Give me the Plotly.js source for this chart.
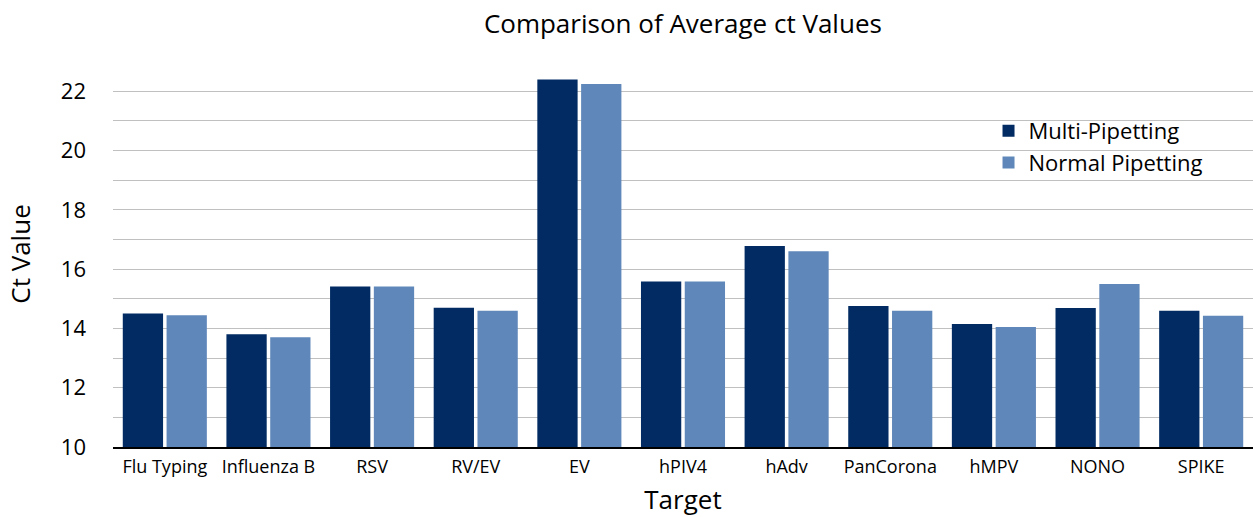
<!DOCTYPE html>
<html>
<head>
<meta charset="utf-8">
<script src="https://cdn.plot.ly/plotly-3.0.1.min.js"></script>
<style>html,body{margin:0;padding:0;background:#fff;}#chart{width:1253px;height:517px;}</style>
</head>
<body>
<div id="chart"></div>
<script>
const categories = ["Flu Typing","Influenza B","RSV","RV/EV","EV","hPIV4","hAdv","PanCorona","hMPV","NONO","SPIKE"];
const multiPipetting = [14.50, 13.80, 15.41, 14.70, 22.40, 15.58, 16.78, 14.76, 14.15, 14.69, 14.60];
const normalPipetting = [14.44, 13.70, 15.41, 14.60, 22.24, 15.58, 16.60, 14.60, 14.05, 15.50, 14.43];
const yTicks = [10, 12, 14, 16, 18, 20, 22];

const font = "'Open Sans', sans-serif";
const traces = [
  {type: "bar", name: "Multi-Pipetting", x: categories, y: multiPipetting, marker: {color: "#012b62"}},
  {type: "bar", name: "Normal Pipetting", x: categories, y: normalPipetting, marker: {color: "#5f87b9"}}
];
const layout = {
  width: 1253, height: 517,
  margin: {l: 113, r: 0, t: 61, b: 70},
  paper_bgcolor: "#fff", plot_bgcolor: "#fff",
  font: {family: font, color: "#000"},
  title: {text: "Comparison of Average ct Values", font: {size: 26, family: font, color: "#000"}, x: 0.545, xanchor: "center", y: 0.954, yanchor: "middle"},
  barmode: "group", bargap: 0.155, bargroupgap: 0.08,
  xaxis: {
    title: {text: "Target", font: {size: 26}, standoff: 24},
    tickfont: {size: 18}, ticklabelstandoff: 2,
    showline: true, linecolor: "#000", linewidth: 2,
    ticks: "", showgrid: false, automargin: false
  },
  yaxis: {
    title: {text: "Ct Value", font: {size: 26}, standoff: 22},
    range: [10, 23.02], tickvals: yTicks, ticktext: yTicks.map(String),
    tickfont: {size: 22}, ticks: "", ticklabelstandoff: 26,
    showgrid: true, gridcolor: "#c0c0c0", gridwidth: 1,
    minor: {dtick: 1, tick0: 10, showgrid: true, gridcolor: "#c0c0c0", gridwidth: 1},
    zeroline: false, showline: false, automargin: false
  },
  legend: {x: 0.768, y: 0.873, xanchor: "left", yanchor: "top", font: {size: 22}, bgcolor: "rgba(0,0,0,0)", tracegroupgap: 0},
  showlegend: true
};
Plotly.newPlot("chart", traces, layout, {displayModeBar: false, staticPlot: true});
</script>
</body>
</html>
